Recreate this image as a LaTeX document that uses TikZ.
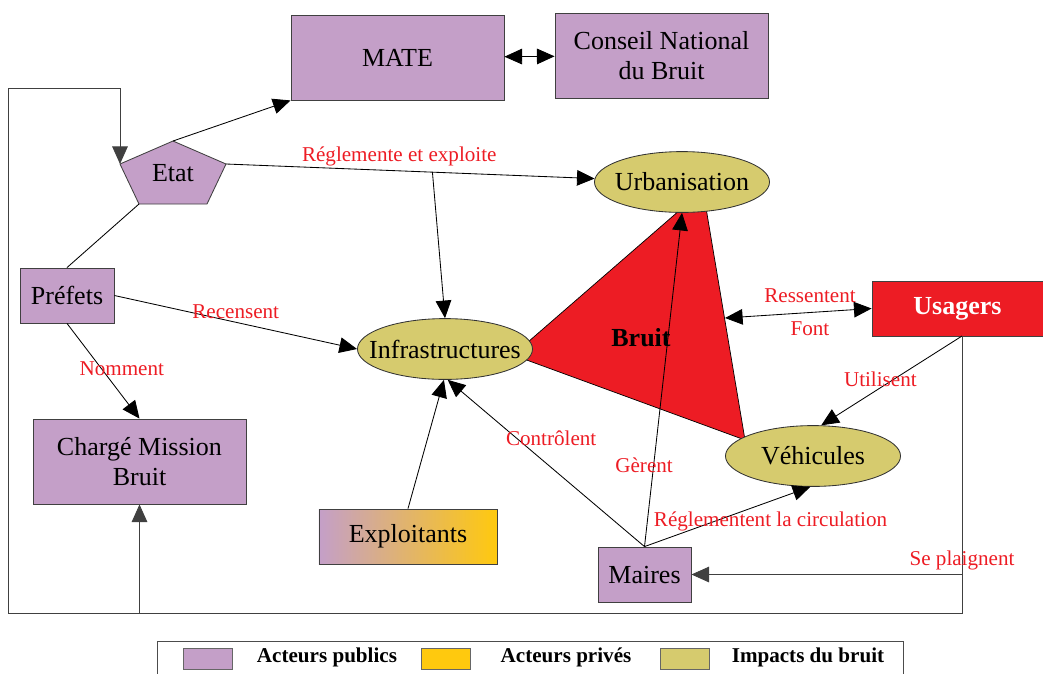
\documentclass[tikz,border=0pt]{standalone}
\usepackage{fontspec}
\setmainfont{Liberation Serif}
\usetikzlibrary{shapes.geometric,arrows.meta}
\definecolor{publicc}{RGB}{196,159,200}
\definecolor{privatec}{RGB}{255,201,14}
\definecolor{impactc}{RGB}{214,203,110}
\definecolor{bruitred}{RGB}{237,28,36}
\tikzset{actor/.style={draw=black!75,fill=publicc,line width=0.6pt,align=center,inner sep=0pt,font=\fontsize{18.5}{21}\selectfont}}
\tikzset{impact/.style={ellipse,draw=black!80,fill=impactc,line width=0.6pt,inner sep=0pt,minimum width=4.375cm,minimum height=1.52cm,font=\fontsize{18.5}{21}\selectfont}}
\tikzset{lbl/.style={text=bruitred,inner sep=1pt,font=\fontsize{15}{17}\selectfont}}
\tikzset{link/.style={line width=0.6pt,->}}
\tikzset{swatch/.style={draw=black!60,line width=0.6pt,minimum width=1.225cm,minimum height=0.525cm,inner sep=0pt}}
\tikzset{legtxt/.style={inner sep=0pt,font=\fontsize{15}{17}\selectfont\bfseries}}

\begin{document}
\begin{tikzpicture}[x=0.025cm,y=-0.025cm,>={Triangle[length=4.4mm,width=3.9mm]}]
        \useasboundingbox (0,0) rectangle (1043,673);
        \clip (0,0) rectangle (1043,673);
        % le bruit
        \filldraw[fill=bruitred,draw=black,line width=0.5pt] (513,355) -- (703,190) -- (745,440) -- cycle;
        \node[font=\fontsize{18.5}{21}\selectfont\bfseries] (bruit) at (641,338) {Bruit};
        % acteurs
        \node[actor,minimum width=5.325cm,minimum height=2.125cm] (mate) at (397.5,57.5) {MATE};
        \node[actor,minimum width=5.325cm,minimum height=2.125cm] (cnb) at (661.5,55.5) {Conseil National\\du Bruit};
        \coordinate (e1) at (173,141);
        \coordinate (e2) at (120,164);
        \coordinate (e3) at (139,204);
        \coordinate (e4) at (207,204);
        \coordinate (e5) at (226,164);
        \filldraw[fill=publicc,draw=black!75,line width=0.6pt] (e1) -- (e2) -- (e3) -- (e4) -- (e5) -- cycle;
        \node[font=\fontsize{18.5}{21}\selectfont] (etat) at (173,173) {Etat};
        \node[actor,minimum width=2.35cm,minimum height=1.375cm] (prefets) at (67,295.5) {Préfets};
        \node[actor,minimum width=5.325cm,minimum height=2.125cm] (charge) at (139.5,461.5) {Chargé Mission\\Bruit};
        \node[actor,left color=publicc,right color=privatec,minimum width=4.45cm,minimum height=1.375cm] (exploit) at (408,536.5) {Exploitants};
        \node[actor,minimum width=2.325cm,minimum height=1.375cm] (maires) at (644.5,574.5) {Maires};
        \node[actor,fill=bruitred,text=white,font=\fontsize{18.5}{21}\selectfont\bfseries,minimum width=4.275cm,minimum height=1.375cm] (usagers) at (957.5,308.5) {Usagers};
        \coordinate (uout) at (962,336);
        % impacts
        \node[impact] (infra) at (445,349) {\makebox[0pt]{Infrastructures}};
        \node[impact] (urba) at (682,182) {\makebox[0pt]{Urbanisation}};
        \node[impact] (vehi) at (813,456) {\makebox[0pt]{Véhicules}};
        % liens
        \draw[link] (e1) -- (mate.south west);
        \draw[link,<->] (mate) -- (cnb);
        \draw[link] (e5) -- coordinate[pos=0.56] (split) node[lbl,pos=0.47,above=2pt] {Réglemente et exploite} (urba);
        \draw[link] (split) -- (infra.north);
        \draw[line width=0.6pt] (e3) -- (prefets.north);
        \draw[link] (prefets.east) -- node[lbl,pos=0.5,above=1pt] {Recensent} (infra.west);
        \draw[link] (prefets.south) -- node[lbl,pos=0.48,xshift=0.5cm] {Nomment} (charge.north);
        \draw[link] (exploit.north) -- (infra.268);
        \draw[link] (maires.north) -- node[lbl,pos=0.647,xshift=0.85cm] {Contrôlent} (infra.275);
        \draw[link] (maires.north) -- node[lbl,pos=0.245,xshift=-0.24cm] {Gèrent} (urba.south);
        \draw[link] (maires.north) -- node[lbl,pos=0.76,below=6pt] {Réglementent la circulation} (vehi.265);
        \coordinate (tr) at (725,318);
        \draw[link,<->] (tr) -- node[lbl,pos=0.58,above=6pt] {Ressentent} node[lbl,pos=0.58,below=5pt] {Font} (usagers.west);
        \draw[link] (uout) -- node[lbl,pos=0.58,yshift=0.22cm] {Utilisent} (vehi.75);
        % boucle
        \coordinate (lowL) at (8,613);
        \coordinate (topL) at (8,88);
        \draw[link,black!75] (uout) |- (lowL) -- (topL) -| (e2);
        \draw[link,black!75] (charge.south |- lowL) -- (charge.south);
        \draw[link,black!75] (uout |- maires.east) -- node[lbl,pos=0,above=2pt] {Se plaignent} (maires.east);
        % legende
        \draw[line width=0.6pt,black!70] (157,690) -- (157,641) -- (903,641) -- (903,690);
        \node[swatch,fill=publicc] (sw1) at (207.5,658.5) {};
        \node[legtxt] (lg1) at (327,657) {Acteurs publics};
        \node[swatch,fill=privatec] (sw2) at (445.5,658.5) {};
        \node[legtxt] (lg2) at (566,657) {Acteurs privés};
        \node[swatch,fill=impactc] (sw3) at (684.5,658.5) {};
        \node[legtxt] (lg3) at (808,657) {Impacts du bruit};
    \end{tikzpicture}
\end{document}
